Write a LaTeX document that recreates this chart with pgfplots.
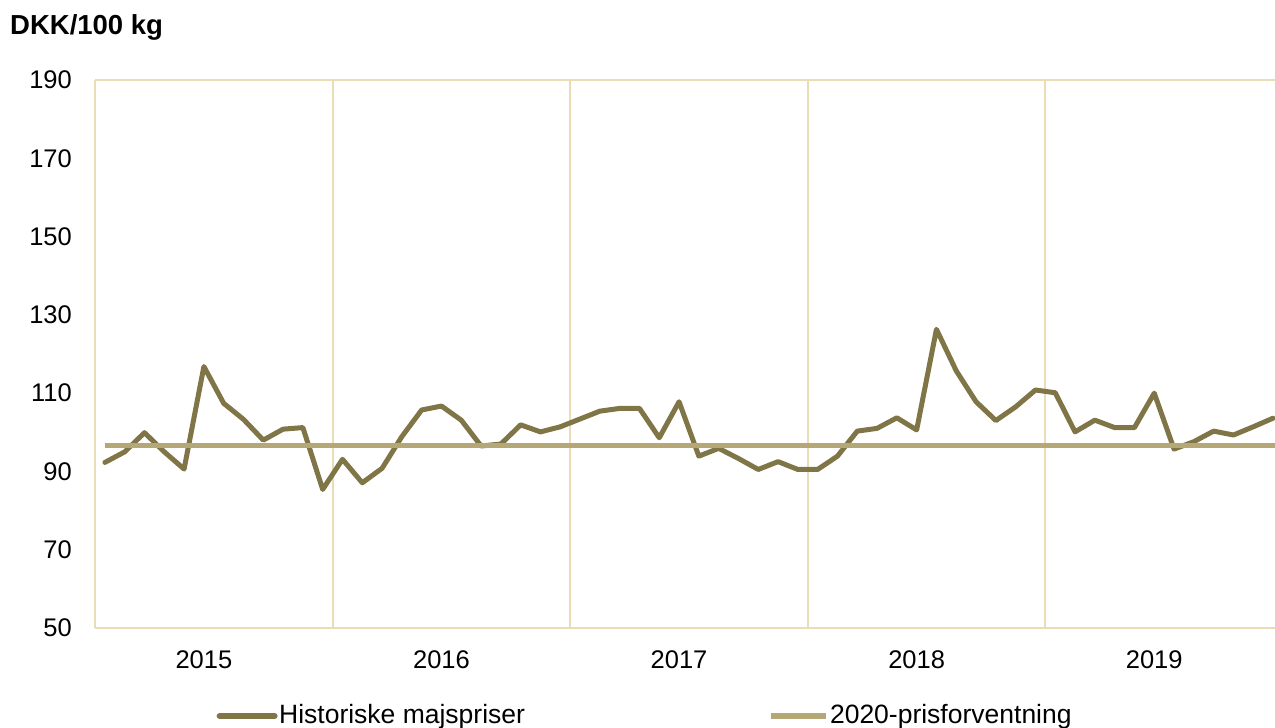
\documentclass[border=0pt]{standalone}
\usepackage{pgfplots}
\pgfplotsset{compat=1.18}
\usepackage{fontspec}
\setmainfont{Liberation Sans}
\definecolor{darkol}{RGB}{128,117,70}
\definecolor{lightol}{RGB}{181,167,118}
\definecolor{gridc}{RGB}{232,221,180}
\begin{document}
\fontsize{25.5bp}{31bp}\selectfont
\begin{tikzpicture}
\useasboundingbox (-95bp,-100bp) rectangle (1180bp,628bp);
\begin{axis}[
 at={(0,0)}, anchor=south west, scale only axis,
 width=1180bp, height=548bp,
 xmin=0, xmax=59.6, ymin=50, ymax=190,
 ytick={50,70,...,190},
 xtick={5.5,17.5,29.5,41.5,53.5},
 xticklabels={2015,2016,2017,2018,2019},
 minor xtick={0,12,24,36,48},
 xminorgrids=true,
 minor grid style={gridc, line width=2bp},
 major grid style={gridc, line width=2bp},
 extra y ticks={50,190}, extra y tick labels={},
 extra y tick style={ymajorgrids=true},
 axis line style={draw=none},
 major tick length=0, minor tick length=0,
 tick style={draw=none},
 /pgf/number format/assume math mode=true,
 yticklabel style={anchor=east, inner sep=0, xshift=-23bp},
 xticklabel style={anchor=north, inner sep=0, yshift=-22bp},
 legend columns=2,
 legend style={at={(axis description cs:0.466,-0.1606)}, anchor=center, draw=none, fill=none,
   /tikz/every even column/.append style={column sep=241bp},
   font=\fontsize{26.5bp}{31bp}\selectfont,
   nodes={inner sep=1.5bp}, cells={anchor=west}},
 legend image code/.code={\draw[#1, line width=6bp] (0bp,0bp) -- (55bp,0bp);},
]
\addplot[darkol, line width=5bp, line join=round, line cap=round] coordinates {
(0.5,92.3) (1.5,95.0) (2.5,99.9) (3.5,95.0) (4.5,90.6) (5.5,116.8) (6.5,107.4) (7.5,103.3) (8.5,98.0) (9.5,100.8) (10.5,101.2) (11.5,85.4)
(12.5,93.1) (13.5,87.1) (14.5,90.8) (15.5,98.9) (16.5,105.7) (17.5,106.7) (18.5,103.1) (19.5,96.5) (20.5,97.0) (21.5,101.9) (22.5,100.1) (23.5,101.4)
(24.5,103.4) (25.5,105.4) (26.5,106.1) (27.5,106.1) (28.5,98.6) (29.5,107.8) (30.5,93.9) (31.5,95.9) (32.5,93.3) (33.5,90.5) (34.5,92.5) (35.5,90.5)
(36.5,90.5) (37.5,93.9) (38.5,100.3) (39.5,101.0) (40.5,103.7) (41.5,100.6) (42.5,126.3) (43.5,115.7) (44.5,107.8) (45.5,103.0) (46.5,106.5) (47.5,110.8)
(48.5,110.1) (49.5,100.1) (50.5,103.1) (51.5,101.2) (52.5,101.2) (53.5,110.0) (54.5,95.7) (55.5,97.6) (56.5,100.3) (57.5,99.3) (58.5,101.4) (59.5,103.6)
};
\addlegendentry{Historiske majspriser}
\addplot[lightol, line width=5bp] coordinates {(0.5,96.7) (59.6,96.7)};
\addlegendentry{2020-prisforventning}
\end{axis}
\node[anchor=base west, inner sep=0, font=\fontsize{27.5bp}{33bp}\selectfont\bfseries] at (-85bp,593bp) {DKK/100 kg};
\end{tikzpicture}
\end{document}
